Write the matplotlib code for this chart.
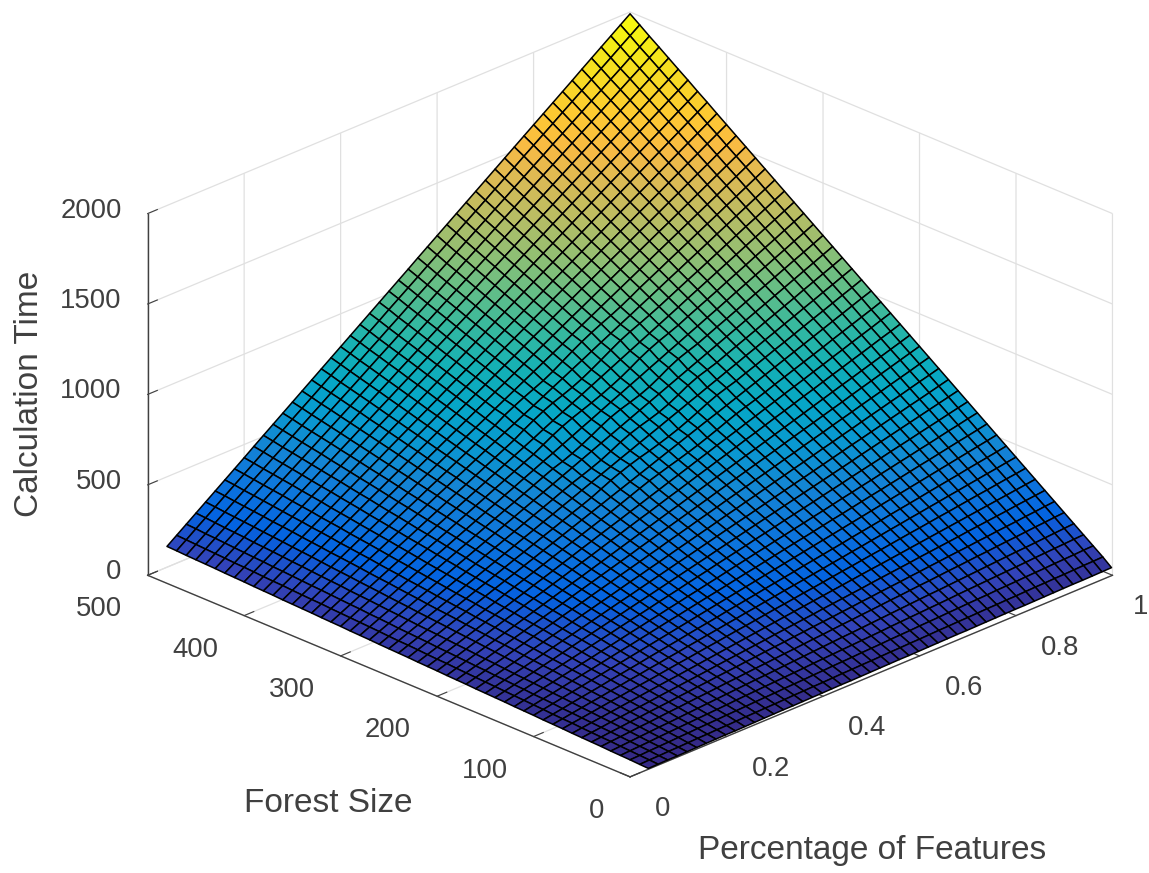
import matplotlib
matplotlib.use('Agg')
import matplotlib.pyplot as plt
import numpy as np
from matplotlib.colors import LinearSegmentedColormap
from mpl_toolkits.mplot3d import proj3d

pct = [0.04, 0.06, 0.08, 0.10, 0.12, 0.14, 0.16, 0.18, 0.20, 0.22, 0.24, 0.26, 0.28, 0.30, 0.32, 0.34, 0.36,
       0.38, 0.40, 0.42, 0.44, 0.46, 0.48, 0.50, 0.52, 0.54, 0.56, 0.58, 0.60, 0.62, 0.64, 0.66, 0.68,
       0.70, 0.72, 0.74, 0.76, 0.78, 0.80, 0.82, 0.84, 0.86, 0.88, 0.90, 0.92, 0.94, 0.96, 0.98, 1.00]
forest = [1, 10, 20, 30, 40, 50, 60, 70, 80, 90, 100, 110, 120, 130, 140, 150, 160, 170, 180, 190, 200, 210, 220,
          230, 240, 250, 260, 270, 280, 290, 300, 310, 320, 330, 340, 350, 360, 370, 380, 390, 400, 410, 420,
          430, 440, 450, 460, 470, 480, 490, 500]

x_ticks = [0, 0.2, 0.4, 0.6, 0.8, 1]
x_labels = ['0', '0.2', '0.4', '0.6', '0.8', '1']
y_ticks = [0, 100, 200, 300, 400, 500]
z_ticks = [0, 500, 1000, 1500, 2000]

# one row per forest size
calc_time = [
    [0, 1, 2, 2, 3, 4, 5,  6, 7, 7, 8, 9, 10, 11,  12, 12, 13, 14, 15, 16, 17,  17, 18, 19, 20, 21, 22, 22,  23, 24, 25, 26, 27, 27, 28,  29, 30, 31, 32, 32, 33, 34,  35, 36, 37, 37, 38, 39, 40],
    [2, 4, 5, 7, 8, 10, 12,  13, 15, 16, 18, 20, 21, 23,  24, 26, 28, 29, 31, 32, 34,  36, 37, 39, 40, 42, 44, 45,  47, 48, 50, 52, 53, 55, 56,  58, 60, 61, 63, 64, 66, 68,  69, 71, 72, 74, 76, 77, 79],
    [5, 7, 10, 12, 14, 17, 19,  22, 24, 26, 29, 31, 33, 36,  38, 40, 43, 45, 47, 50, 52,  55, 57, 59, 62, 64, 66, 69,  71, 73, 76, 78, 80, 83, 85,  88, 90, 92, 95, 97, 99, 102,  104, 106, 109, 111, 113, 116, 118],
    [7, 10, 13, 16, 20, 23, 26,  29, 32, 35, 38, 41, 45, 48,  51, 54, 57, 60, 63, 66, 70,  73, 76, 79, 82, 85, 88, 91,  95, 98, 101, 104, 107, 110, 113,  117, 120, 123, 126, 129, 132, 135,  138, 142, 145, 148, 151, 154, 157],
    [9, 13, 17, 21, 25, 29, 32,  36, 40, 44, 48, 52, 56, 60,  64, 68, 71, 75, 79, 83, 87,  91, 95, 99, 103, 106, 110, 114,  118, 122, 126, 130, 134, 138, 141,  145, 149, 153, 157, 161, 165, 169,  173, 176, 180, 184, 188, 192, 196],
    [12, 17, 21, 26, 31, 35, 40,  45, 49, 54, 59, 63, 68, 73,  77, 82, 87, 91, 96, 101, 105,  110, 115, 119, 124, 129, 133, 138,  142, 147, 152, 156, 161, 166, 170,  175, 180, 184, 189, 194, 198, 203,  208, 212, 217, 222, 226, 231, 235],
    [14, 19, 25, 30, 36, 41, 47,  52, 57, 63, 68, 74, 79, 85,  90, 95, 101, 106, 112, 117, 122,  128, 133, 139, 144, 149, 155, 160,  166, 171, 177, 182, 187, 193, 198,  204, 209, 215, 220, 225, 231, 236,  242, 247, 252, 258, 263, 269, 274],
    [16, 22, 28, 35, 41, 47, 53,  59, 66, 72, 78, 84, 90, 96,  103, 109, 115, 121, 127, 133, 140,  146, 152, 158, 164, 171, 177, 183,  189, 195, 202, 208, 214, 220, 226,  233, 239, 245, 251, 257, 264, 270,  276, 282, 288, 295, 301, 307, 313],
    [18, 25, 32, 39, 46, 53, 60,  67, 74, 81, 88, 94, 101, 108,  115, 122, 129, 136, 143, 150, 157,  164, 171, 178, 185, 192, 199, 206,  213, 220, 227, 234, 240, 247, 254,  261, 268, 275, 282, 289, 296, 303,  310, 317, 324, 331, 338, 345, 352],
    [21, 29, 36, 44, 52, 60, 67,  75, 83, 90, 98, 106, 114, 121,  129, 137, 144, 152, 160, 167, 175,  183, 191, 198, 206, 214, 221, 229,  237, 245, 252, 260, 268, 275, 283,  291, 299, 306, 314, 322, 329, 337,  345, 353, 360, 368, 376, 383, 391],
    [23, 31, 40, 48, 57, 65, 74,  82, 91, 99, 108, 116, 125, 133,  142, 150, 159, 167, 176, 184, 193,  201, 210, 218, 227, 235, 243, 252,  260, 269, 277, 286, 294, 303, 311,  320, 328, 337, 345, 354, 362, 371,  379, 388, 396, 405, 413, 422, 430],
    [25, 34, 43, 53, 62, 71, 80,  90, 99, 108, 117, 127, 136, 145,  154, 164, 173, 182, 191, 201, 210,  219, 228, 238, 247, 256, 265, 275,  284, 293, 302, 311, 321, 330, 339,  348, 358, 367, 376, 385, 395, 404,  413, 422, 432, 441, 450, 459, 469],
    [28, 38, 48, 58, 68, 78, 88,  98, 108, 118, 128, 138, 148, 158,  168, 178, 188, 198, 208, 218, 228,  238, 248, 258, 268, 278, 288, 298,  308, 318, 328, 338, 348, 358, 368,  378, 388, 398, 408, 418, 428, 438,  448, 458, 468, 478, 488, 498, 508],
    [30, 41, 52, 62, 73, 84, 95,  105, 116, 127, 138, 148, 159, 170,  181, 192, 202, 213, 224, 235, 245,  256, 267, 278, 288, 299, 310, 321,  332, 342, 353, 364, 375, 385, 396,  407, 418, 428, 439, 450, 461, 472,  482, 493, 504, 515, 525, 536, 547],
    [32, 44, 55, 67, 78, 90, 101,  113, 124, 136, 147, 159, 171, 182,  194, 205, 217, 228, 240, 251, 263,  274, 286, 298, 309, 321, 332, 344,  355, 367, 378, 390, 401, 413, 425,  436, 448, 459, 471, 482, 494, 505,  517, 528, 540, 552, 563, 575, 586],
    [35, 47, 60, 72, 84, 97, 109,  121, 133, 146, 158, 170, 183, 195,  207, 219, 232, 244, 256, 269, 281,  293, 306, 318, 330, 342, 355, 367,  379, 392, 404, 416, 428, 441, 453,  465, 478, 490, 502, 514, 527, 539,  551, 564, 576, 588, 601, 613, 625],
    [37, 50, 63, 76, 89, 102, 115,  128, 142, 155, 168, 181, 194, 207,  220, 233, 246, 259, 272, 285, 298,  311, 324, 338, 351, 364, 377, 390,  403, 416, 429, 442, 455, 468, 481,  494, 507, 520, 534, 547, 560, 573,  586, 599, 612, 625, 638, 651, 664],
    [39, 53, 67, 80, 94, 108, 122,  136, 150, 163, 177, 191, 205, 219,  233, 246, 260, 274, 288, 302, 316,  329, 343, 357, 371, 385, 399, 412,  426, 440, 454, 468, 482, 495, 509,  523, 537, 551, 565, 578, 592, 606,  620, 634, 648, 661, 675, 689, 703],
    [41, 56, 70, 85, 99, 114, 129,  143, 158, 172, 187, 202, 216, 231,  245, 260, 275, 289, 304, 318, 333,  348, 362, 377, 391, 406, 421, 435,  450, 464, 479, 494, 508, 523, 537,  552, 567, 581, 596, 610, 625, 640,  654, 669, 683, 698, 713, 727, 742],
    [44, 59, 75, 90, 105, 121, 136,  152, 167, 182, 198, 213, 228, 244,  259, 274, 290, 305, 320, 336, 351,  367, 382, 397, 413, 428, 443, 459,  474, 489, 505, 520, 535, 551, 566,  582, 597, 612, 628, 643, 658, 674,  689, 704, 720, 735, 750, 766, 781],
    [46, 62, 78, 94, 111, 127, 143,  159, 175, 191, 207, 223, 240, 256,  272, 288, 304, 320, 336, 353, 369,  385, 401, 417, 433, 449, 465, 482,  498, 514, 530, 546, 562, 578, 595,  611, 627, 643, 659, 675, 691, 708,  724, 740, 756, 772, 788, 804, 820],
    [48, 65, 82, 99, 116, 132, 149,  166, 183, 200, 217, 234, 251, 268,  284, 301, 318, 335, 352, 369, 386,  403, 420, 437, 453, 470, 487, 504,  521, 538, 555, 572, 588, 605, 622,  639, 656, 673, 690, 707, 724, 741,  757, 774, 791, 808, 825, 842, 859],
    [51, 69, 86, 104, 122, 139, 157,  175, 192, 210, 228, 245, 263, 280,  298, 316, 333, 351, 369, 386, 404,  422, 439, 457, 475, 492, 510, 528,  545, 563, 580, 598, 616, 633, 651,  669, 686, 704, 722, 739, 757, 775,  792, 810, 827, 845, 863, 880, 898],
    [53, 71, 90, 108, 127, 145, 164,  182, 200, 219, 237, 256, 274, 292,  311, 329, 348, 366, 385, 403, 421,  440, 458, 477, 495, 514, 532, 550,  569, 587, 606, 624, 642, 661, 679,  698, 716, 735, 753, 771, 790, 808,  827, 845, 864, 882, 900, 919, 937],
    [55, 74, 93, 113, 132, 151, 170,  189, 208, 228, 247, 266, 285, 304,  324, 343, 362, 381, 400, 419, 439,  460, 481, 502, 522, 539, 556, 572,  589, 607, 627, 648, 670, 691, 709,  726, 745, 765, 784, 803, 822, 841,  860, 880, 899, 918, 937, 956, 976],
    [58, 78, 98, 118, 138, 158, 178,  198, 218, 238, 258, 277, 297, 317,  337, 357, 377, 397, 417, 437, 457,  477, 497, 517, 537, 557, 577, 597,  617, 637, 657, 677, 696, 716, 736,  756, 776, 796, 816, 836, 856, 876,  896, 916, 936, 956, 976, 996, 1015],
    [60, 81, 101, 122, 143, 164, 184,  205, 226, 246, 267, 288, 309, 329,  350, 371, 391, 412, 433, 453, 474,  499, 524, 546, 566, 583, 598, 615,  633, 653, 676, 701, 727, 750, 768,  785, 806, 826, 847, 868, 888, 909,  930, 951, 971, 992, 1013, 1033, 1054],
    [62, 83, 105, 126, 148, 169, 191,  212, 234, 255, 277, 298, 320, 341,  363, 384, 406, 427, 449, 470, 492,  513, 535, 556, 578, 599, 621, 642,  663, 685, 706, 728, 749, 771, 792,  814, 835, 857, 878, 900, 921, 943,  964, 986, 1007, 1029, 1050, 1072, 1093],
    [64, 86, 108, 131, 153, 175, 197,  220, 242, 264, 286, 309, 331, 353,  375, 398, 420, 442, 464, 487, 509,  528, 548, 570, 596, 624, 648, 667,  683, 701, 724, 752, 782, 806, 824,  842, 865, 887, 909, 931, 954, 976,  998, 1020, 1043, 1065, 1087, 1109, 1132],
    [67, 90, 113, 136, 159, 182, 205,  228, 251, 274, 297, 320, 343, 366,  389, 412, 435, 458, 481, 504, 527,  550, 573, 596, 619, 642, 665, 688,  711, 734, 757, 780, 803, 826, 849,  872, 895, 918, 941, 964, 987, 1010,  1033, 1056, 1079, 1102, 1125, 1148, 1171],
    [69, 93, 117, 140, 164, 188, 212,  235, 259, 283, 307, 330, 354, 378,  402, 426, 449, 473, 497, 521, 544,  562, 584, 610, 638, 668, 695, 716,  733, 751, 774, 803, 835, 862, 882,  901, 925, 949, 972, 996, 1020, 1044,  1067, 1091, 1115, 1139, 1162, 1186, 1210],
    [71, 96, 120, 145, 169, 194, 218,  243, 267, 292, 316, 341, 365, 390,  415, 439, 464, 488, 513, 537, 562,  586, 611, 635, 660, 684, 709, 734,  758, 783, 807, 832, 856, 881, 905,  930, 954, 979, 1003, 1028, 1053, 1077,  1102, 1126, 1151, 1175, 1200, 1224, 1249],
    [74, 99, 125, 150, 175, 201, 226,  251, 276, 302, 327, 352, 378, 403,  428, 453, 479, 504, 529, 555, 580,  610, 640, 667, 690, 710, 730, 752,  776, 802, 832, 864, 892, 916, 937,  959, 985, 1010, 1035, 1060, 1086, 1111,  1136, 1162, 1187, 1212, 1238, 1263, 1288],
    [76, 102, 128, 154, 180, 206, 232,  258, 285, 311, 337, 363, 389, 415,  441, 467, 493, 519, 545, 571, 597,  623, 650, 676, 702, 728, 754, 780,  806, 832, 858, 884, 910, 936, 962,  988, 1014, 1041, 1067, 1093, 1119, 1145,  1171, 1197, 1223, 1249, 1275, 1301, 1327],
    [78, 105, 132, 158, 185, 212, 239,  266, 293, 319, 346, 373, 400, 427,  454, 480, 507, 534, 561, 588, 615,  648, 678, 706, 730, 750, 771, 796,  825, 856, 888, 919, 945, 968, 992,  1017, 1044, 1071, 1098, 1124, 1151, 1178,  1205, 1232, 1259, 1285, 1312, 1339, 1366],
    [81, 109, 136, 164, 191, 219, 247,  274, 302, 329, 357, 384, 412, 440,  467, 495, 522, 550, 578, 605, 633,  660, 688, 715, 743, 771, 798, 826,  853, 881, 909, 936, 964, 991, 1019,  1046, 1074, 1102, 1129, 1157, 1184, 1212,  1240, 1267, 1295, 1322, 1350, 1377, 1405],
    [83, 111, 140, 168, 196, 225, 253,  282, 310, 338, 367, 395, 423, 452,  480, 508, 537, 565, 593, 622, 650,  684, 712, 738, 762, 786, 815, 848,  881, 912, 940, 966, 990, 1016, 1045,  1076, 1104, 1132, 1161, 1189, 1217, 1246,  1274, 1302, 1331, 1359, 1387, 1416, 1444],
    [85, 114, 143, 172, 201, 231, 260,  289, 318, 347, 376, 405, 434, 464,  493, 522, 551, 580, 609, 638, 667,  697, 726, 755, 784, 813, 842, 871,  900, 930, 959, 988, 1017, 1046, 1075,  1104, 1133, 1163, 1192, 1221, 1250, 1279,  1308, 1337, 1366, 1396, 1425, 1454, 1483],
    [87, 117, 147, 177, 207, 236, 266,  296, 326, 356, 386, 416, 446, 476,  505, 535, 565, 595, 625, 655, 685,  715, 745, 774, 804, 834, 864, 894,  924, 954, 984, 1013, 1043, 1073, 1103,  1133, 1163, 1193, 1223, 1253, 1282, 1312,  1342, 1372, 1402, 1432, 1462, 1492, 1522],
    [90, 121, 151, 182, 213, 243, 274,  305, 335, 366, 397, 427, 458, 488,  519, 550, 580, 611, 642, 672, 703,  734, 764, 795, 826, 856, 887, 918,  948, 979, 1010, 1040, 1071, 1101, 1132,  1163, 1193, 1224, 1255, 1285, 1316, 1347,  1377, 1408, 1439, 1469, 1500, 1530, 1561],
    [92, 123, 155, 186, 218, 249, 281,  312, 343, 375, 406, 438, 469, 500,  532, 563, 595, 626, 658, 689, 720,  752, 783, 815, 846, 878, 909, 940,  972, 1003, 1035, 1066, 1098, 1129, 1160,  1192, 1223, 1255, 1286, 1318, 1349, 1380,  1412, 1443, 1475, 1506, 1538, 1569, 1600],
    [94, 126, 158, 191, 223, 255, 287,  319, 351, 384, 416, 448, 480, 512,  545, 577, 609, 641, 673, 705, 738,  770, 802, 834, 866, 899, 931, 963,  995, 1027, 1059, 1092, 1124, 1156, 1188,  1220, 1252, 1285, 1317, 1349, 1381, 1413,  1446, 1478, 1510, 1542, 1574, 1606, 1639],
    [97, 130, 163, 196, 229, 262, 295,  328, 361, 394, 427, 459, 492, 525,  558, 591, 624, 657, 690, 723, 756,  789, 822, 855, 888, 921, 954, 987,  1020, 1053, 1086, 1119, 1151, 1184, 1217,  1250, 1283, 1316, 1349, 1382, 1415, 1448,  1481, 1514, 1547, 1580, 1613, 1646, 1679],
    [99, 133, 166, 200, 234, 268, 301,  335, 369, 402, 436, 470, 504, 537,  571, 605, 638, 672, 706, 740, 773,  807, 841, 874, 908, 942, 975, 1009,  1043, 1077, 1110, 1144, 1178, 1211, 1245,  1279, 1313, 1346, 1380, 1414, 1447, 1481,  1515, 1549, 1582, 1616, 1650, 1683, 1717],
    [101, 135, 170, 204, 239, 273, 308,  342, 377, 411, 446, 480, 515, 549,  584, 618, 653, 687, 722, 756, 791,  825, 860, 894, 929, 963, 998, 1032,  1067, 1101, 1136, 1170, 1205, 1239, 1274,  1308, 1343, 1377, 1412, 1446, 1481, 1515,  1550, 1584, 1619, 1653, 1688, 1722, 1757],
    [104, 139, 174, 210, 245, 280, 315,  351, 386, 421, 456, 492, 527, 562,  597, 633, 668, 703, 738, 774, 809,  844, 879, 915, 950, 985, 1020, 1055,  1091, 1126, 1161, 1196, 1232, 1267, 1302,  1337, 1373, 1408, 1443, 1478, 1514, 1549,  1584, 1619, 1654, 1690, 1725, 1760, 1795],
    [106, 142, 178, 214, 250, 286, 322,  358, 394, 430, 466, 502, 538, 574,  610, 646, 682, 718, 754, 790, 826,  862, 898, 934, 970, 1006, 1042, 1078,  1114, 1150, 1186, 1222, 1258, 1294, 1330,  1366, 1402, 1438, 1474, 1510, 1546, 1582,  1618, 1654, 1690, 1726, 1762, 1798, 1834],
    [108, 145, 182, 218, 255, 292, 329,  365, 402, 439, 476, 512, 549, 586,  623, 660, 696, 733, 770, 807, 843,  880, 917, 954, 990, 1027, 1064, 1101,  1138, 1174, 1211, 1248, 1285, 1321, 1358,  1395, 1432, 1468, 1505, 1542, 1579, 1615,  1652, 1689, 1726, 1763, 1799, 1836, 1873],
    [110, 148, 185, 223, 260, 298, 335,  373, 410, 448, 485, 523, 560, 598,  635, 673, 710, 748, 785, 823, 860,  898, 935, 973, 1011, 1048, 1086, 1123,  1161, 1198, 1236, 1273, 1311, 1348, 1386,  1423, 1461, 1498, 1536, 1573, 1611, 1648,  1686, 1723, 1761, 1798, 1836, 1873, 1911],
    [113, 151, 190, 228, 266, 305, 343,  381, 419, 458, 496, 534, 573, 611,  649, 687, 726, 764, 802, 841, 879,  917, 956, 994, 1032, 1070, 1109, 1147,  1185, 1224, 1262, 1300, 1338, 1377, 1415,  1453, 1492, 1530, 1568, 1606, 1645, 1683,  1721, 1760, 1798, 1836, 1875, 1913, 1951],
    [115, 154, 193, 232, 271, 310, 349,  388, 427, 467, 506, 545, 584, 623,  662, 701, 740, 779, 818, 857, 896,  935, 974, 1013, 1052, 1091, 1131, 1170,  1209, 1248, 1287, 1326, 1365, 1404, 1443,  1482, 1521, 1560, 1599, 1638, 1677, 1716,  1755, 1795, 1834, 1873, 1912, 1951, 1990],
]

parula = LinearSegmentedColormap.from_list('parula', [
    (0.2081, 0.1663, 0.5292), (0.1959, 0.2645, 0.7279), (0.0117, 0.3875, 0.8820),
    (0.0498, 0.4586, 0.8641), (0.0793, 0.5200, 0.8312), (0.0343, 0.5966, 0.8199),
    (0.0228, 0.6535, 0.7768), (0.0843, 0.6928, 0.7062), (0.2178, 0.7250, 0.6193),
    (0.3953, 0.7459, 0.5244), (0.5709, 0.7485, 0.4494), (0.7184, 0.7411, 0.3905),
    (0.8507, 0.7299, 0.3360), (0.9739, 0.7314, 0.2666), (0.9955, 0.7861, 0.1967),
    (0.9697, 0.8481, 0.1475), (0.9598, 0.9218, 0.0948), (0.9763, 0.9831, 0.0538)])

plt.rcParams['font.family'] = ['Liberation Sans', 'DejaVu Sans']
dark = '#404040'

fig = plt.figure(figsize=(11.49, 8.73), dpi=100)
ax = fig.add_axes([-37.5 / 1149, -189 / 873, 1300 / 1149, 1300 / 873], projection='3d', proj_type='ortho')
ax.view_init(elev=24.7, azim=-135)
ax.set_box_aspect((1, 1, 398 / 682), zoom=0.7794)

X, Y = np.meshgrid(pct, forest)
Z = np.array(calc_time, dtype=float)
ax.plot_surface(X, Y, Z, cmap=parula, vmin=0, vmax=1990, rstride=1, cstride=1,
                edgecolor='black', linewidth=1.1, shade=False)

ax.set_xlim(0, 1)
ax.set_ylim(0, 500)
ax.set_zlim(0, 2000)
ax.set_xticks(x_ticks)
ax.set_yticks(y_ticks)
ax.set_zticks(z_ticks)
ax.set_xticklabels([])
ax.set_yticklabels([])
ax.set_zticklabels([])

for axis in (ax.xaxis, ax.yaxis, ax.zaxis):
    axis.set_pane_color((1, 1, 1, 0))
    axis.pane.set_edgecolor('#d9d9d9')
    axis.line.set_color(dark)
    axis.line.set_linewidth(1.0)
    axis._axinfo['grid'].update(color='#e0e0e0', linewidth=0.9)
    axis._axinfo['tick'].update(inward_factor=0.0, outward_factor=0.25)
ax.tick_params(axis='both', colors=dark)
ax.tick_params(axis='z', colors=dark)

M = ax.get_proj()


def tick_label(x, y, z, text, dx, dy, ha):
    # tick labels placed next to the projected tick
    px, py, _ = proj3d.proj_transform(x, y, z, M)
    ax.annotate(text, (px, py), xytext=(dx, dy), textcoords='offset pixels', ha=ha, va='center',
                fontsize=19.8, color=dark, annotation_clip=False)


for val, lab in zip(x_ticks, x_labels):
    # the last label sits closer in, or it runs off the figure
    tick_label(val, 0, 0, lab, 20 if lab == '1' else 25, -32, 'left')
for val in y_ticks:
    tick_label(0, val, 0, str(val), -26, -34, 'right')
for val in z_ticks:
    tick_label(0, 500, val, str(val), -26, 3, 'right')

fig.text(328 / 1149, 1 - 803 / 873, 'Forest Size', fontsize=24, color=dark, ha='center', va='center')
fig.text(872 / 1149, 1 - 850 / 873, 'Percentage of Features', fontsize=24, color=dark, ha='center', va='center')
fig.text(30 / 1149, 1 - 394 / 873, 'Calculation Time', fontsize=24, color=dark, ha='center', va='center', rotation=90)

fig.savefig('out.png', dpi=100)
